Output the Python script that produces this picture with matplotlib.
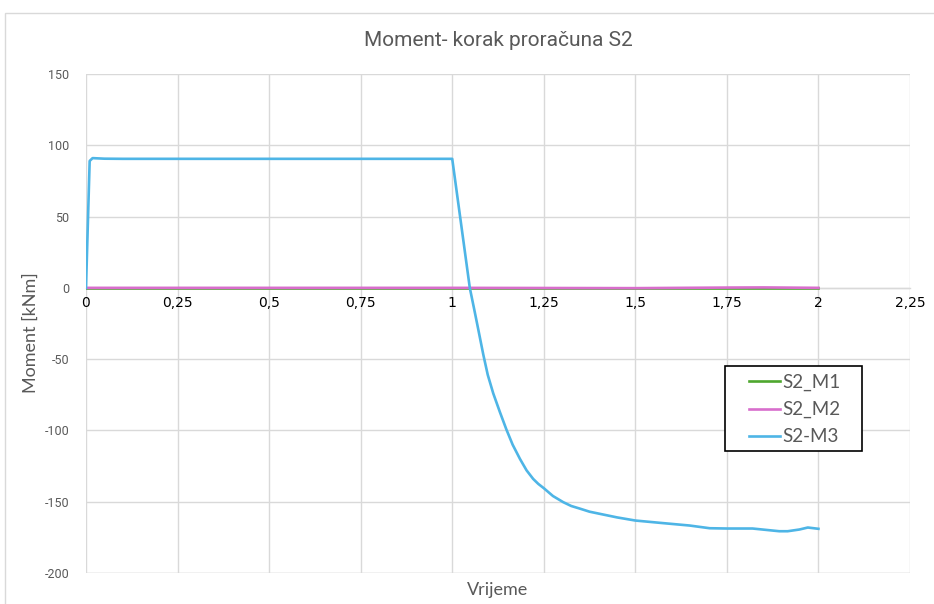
import matplotlib
matplotlib.use("Agg")
import matplotlib.pyplot as plt
from matplotlib.patches import Rectangle
from matplotlib.lines import Line2D

# Moment history for section S2
time_m3 = [0.0, 0.01, 0.018, 0.05, 0.1, 0.5, 1.0, 1.048, 1.06, 1.071, 1.085, 1.097,
           1.112, 1.13, 1.148, 1.165, 1.185, 1.203, 1.221, 1.235, 1.25, 1.275,
           1.303, 1.325, 1.348, 1.375, 1.403, 1.45, 1.5, 1.575, 1.648, 1.703,
           1.751, 1.82, 1.893, 1.916, 1.948, 1.971, 2.0]
moment_m3 = [0.0, 89.0, 91.0, 90.6, 90.5, 90.5, 90.5, 0.0, -15.0, -29.0, -47.0, -61.0,
             -74.0, -87.0, -99.4, -110.0, -120.0, -128.0, -134.0, -137.5, -140.5, -146.0,
             -150.3, -153.0, -154.8, -157.0, -158.5, -161.0, -163.2, -165.0, -166.7, -168.6,
             -168.8, -168.8, -170.7, -170.7, -169.5, -168.1, -169.0]

time_m12 = [0.0, 0.5, 1.0, 1.5, 1.75, 1.85, 2.0]
moment_m1 = [0.0, 0.0, 0.0, 0.0, 0.0, 0.0, 0.0]
moment_m2 = [0.0, 0.0, 0.0, -0.2, 0.2, 0.3, 0.0]

x_ticks = [0, 0.25, 0.5, 0.75, 1, 1.25, 1.5, 1.75, 2, 2.25]
x_tick_labels = ["0", "0,25", "0,5", "0,75", "1", "1,25", "1,5", "1,75", "2", "2,25"]
y_ticks = [-200, -150, -100, -50, 0, 50, 100, 150]

narrow = ["Roboto", "DejaVu Sans"]
regular = ["Lato", "Open Sans", "DejaVu Sans"]
text_gray = "#595959"
grid_gray = "#D9D9D9"

W, H = 934, 604
fig = plt.figure(figsize=(W / 100, H / 100), dpi=100)
fig.patch.set_facecolor("white")


def fx(px):
    return px / W


def fy(py):
    return 1 - py / H


# outer chart-area frame
fig.patches.append(Rectangle((fx(5), -0.05), 1.1, fy(13) + 0.05,
                             transform=fig.transFigure, fill=False,
                             edgecolor=grid_gray, linewidth=1.0))

ax = fig.add_axes([fx(86), fy(573), fx(910 - 86), (573 - 74) / H])
ax.set_xlim(0, 2.25)
ax.set_ylim(-200, 150)

lw = 1.9
lines = []
lines += ax.plot(time_m12, moment_m1, color="#4EA72E", lw=lw, label="S2_M1", zorder=3)
lines += ax.plot(time_m12, moment_m2, color="#D86ECC", lw=lw, label="S2_M2", zorder=4)
lines += ax.plot(time_m3, moment_m3, color="#4EB5E6", lw=lw, label="S2-M3", zorder=5)

ax.set_xticks(x_ticks)
ax.set_xticklabels(x_tick_labels, family=narrow, fontsize=9, color=text_gray)
ax.set_yticks(y_ticks)
ax.set_yticklabels([str(v) for v in y_ticks], family=narrow, fontsize=9, color=text_gray)
ax.tick_params(axis="both", length=0)
ax.tick_params(axis="x", pad=6)
ax.tick_params(axis="y", pad=12)

ax.grid(True, color=grid_gray, linewidth=1.0)
ax.set_axisbelow(True)
for side in ["top", "right", "left"]:
    ax.spines[side].set_visible(False)
ax.spines["bottom"].set_position(("data", 0))
ax.spines["bottom"].set_color(grid_gray)
ax.spines["bottom"].set_linewidth(1.0)
ax.axhline(-200, color=grid_gray, lw=1.0, zorder=0)

fig.text(fx(498), fy(40), "Moment- korak proračuna S2",
         ha="center", va="center", family=narrow, fontsize=15, color=text_gray)
fig.text(fx(498), fy(590), "Vrijeme", ha="center", va="center",
         family=regular, fontsize=13, color=text_gray)
fig.text(fx(31), fy(333), "Moment [kNm]", ha="center", va="center",
         rotation=90, family=regular, fontsize=13, color=text_gray)

# legend box with series keys
fig.patches.append(Rectangle((fx(725), fy(451)), fx(862 - 725), (451 - 366) / H,
                             transform=fig.transFigure, facecolor="white",
                             edgecolor="black", linewidth=1.2, zorder=10))
for i, ln in enumerate(lines):
    yrow = 381 + 27.5 * i
    fig.lines.append(Line2D([fx(749), fx(780)], [fy(yrow), fy(yrow)],
                            transform=fig.transFigure, color=ln.get_color(),
                            lw=lw, zorder=11))
    fig.text(fx(782), fy(yrow + 1), ln.get_label(), ha="left", va="center",
             family=regular, fontsize=13.5, color=text_gray, zorder=12)

fig.savefig("out.png", dpi=100, facecolor="white")
